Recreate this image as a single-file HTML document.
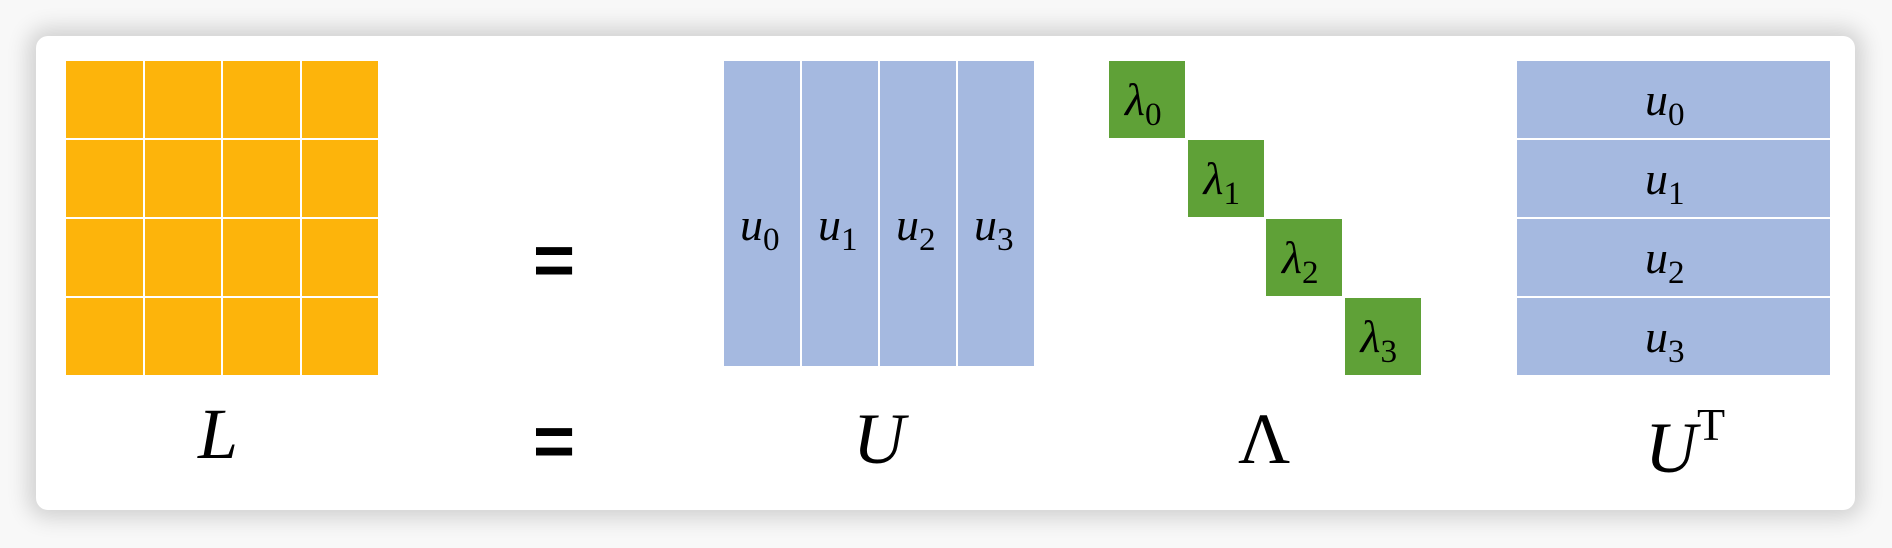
<!DOCTYPE html>
<html><head><meta charset="utf-8">
<style>
html,body{margin:0;padding:0;width:1892px;height:548px;overflow:hidden;background:#f8f8f8;}
.card{position:absolute;left:36px;top:36px;width:1819px;height:474px;background:#fff;border-radius:12px;box-shadow:0 0 22px 8px rgba(0,0,0,0.16);}
.c{position:absolute;box-sizing:border-box;}
.y{background:#fdb40b;}
.b{background:#a5b9e0;}
.g{background:#5fa137;}
.t{position:absolute;font-family:"Liberation Serif","DejaVu Serif",serif;font-style:italic;color:#000;white-space:nowrap;}
.t sub{font-style:normal;font-size:0.72em;vertical-align:-0.3em;}
.eq{position:absolute;font-family:"Liberation Sans",sans-serif;font-size:72px;font-weight:bold;line-height:1;}
</style></head><body>
<div class="card"></div>
<div id="root"></div>
<div class="eq" style="left:533px;top:225px">=</div>
<div class="eq" style="left:533px;top:406px">=</div>
<div class="t" style="left:198px;top:393px;font-size:72px">L</div>
<div class="t" style="left:853px;top:398px;font-size:72px">U</div>
<div class="t" style="left:1238px;top:398px;font-size:72px;font-style:normal">Λ</div>
<div class="t" style="left:1645px;top:398px;font-size:72px">U<span style="font-style:normal;font-size:46px;vertical-align:32px">T</span></div>
<script>
const labelsU=['0','1','2','3'];
const root=document.getElementById('root');
function box(x,y,w,h,cls,name){const d=document.createElement('div');d.className='c '+cls;d.style.left=x+'px';d.style.top=y+'px';d.style.width=w+'px';d.style.height=h+'px';


root.appendChild(d);return d;}
function txt(x,y,html,size,name){const d=document.createElement('div');d.className='t';d.style.left=x+'px';d.style.top=y+'px';d.style.fontSize=size+'px';d.innerHTML=html;


root.appendChild(d);return d;}
for(let r=0;r<4;r++)for(let c=0;c<4;c++){box(66+c*78.5,61+r*79,76.5,77,'y','L-cell');}
for(let c=0;c<4;c++){box(724+c*78,61,76,305,'b','U-column');
txt(724+c*78+16,198,'u<sub>'+labelsU[c]+'</sub>',46,'U-column-label');}
for(let i=0;i<4;i++){const x=1109+i*78.5,y=61+i*79;box(x,y,76,77,'g','lambda-cell');
txt(x+16,y+12,'λ<sub>'+labelsU[i]+'</sub>',46,'lambda-label');}
for(let r=0;r<4;r++){box(1517,61+r*79,313,77,'b','UT-row');
txt(1645,61+r*79+12,'u<sub>'+labelsU[r]+'</sub>',46,'UT-row-label');}
</script>
</body></html>
